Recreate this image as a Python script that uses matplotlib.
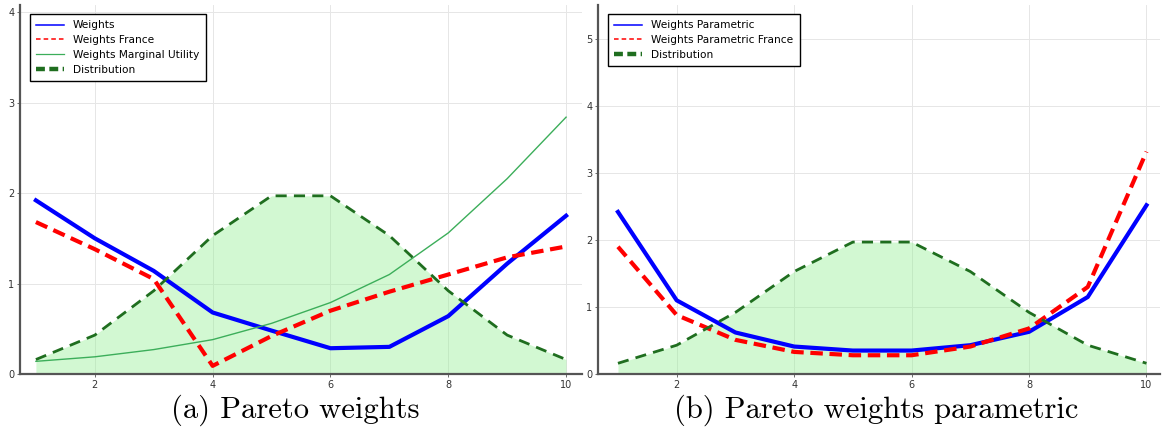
import matplotlib
matplotlib.use("Agg")
import matplotlib.pyplot as plt
from matplotlib.lines import Line2D
import numpy as np

# data
x = np.arange(1, 11)
distribution = [0.16, 0.43, 0.92, 1.53, 1.97, 1.97, 1.53, 0.92, 0.43, 0.16]

weights = [1.92, 1.50, 1.14, 0.68, 0.48, 0.285, 0.30, 0.64, 1.22, 1.75]
weights_france = [1.68, 1.38, 1.05, 0.09, 0.42, 0.70, 0.91, 1.10, 1.29, 1.41]
weights_mu = [0.14, 0.19, 0.27, 0.38, 0.56, 0.79, 1.10, 1.56, 2.16, 2.84]

weights_par = [2.42, 1.10, 0.62, 0.41, 0.35, 0.35, 0.43, 0.63, 1.15, 2.52]
weights_par_france = [1.90, 0.88, 0.51, 0.33, 0.28, 0.28, 0.41, 0.68, 1.30, 3.32]

W, H = 1162, 434
fig = plt.figure(figsize=(W / 100, H / 100), dpi=100)

ax1 = fig.add_axes([20 / W, 1 - 374 / H, 562 / W, 369 / H])
ax2 = fig.add_axes([598 / W, 1 - 374 / H, 562 / W, 369 / H])

RED_DASH = (0, (3, 1.6))
DIST_DASH = (0, (4, 2.6))


def style(ax):
    for s in ["top", "right"]:
        ax.spines[s].set_visible(False)
    for s in ["left", "bottom"]:
        ax.spines[s].set_color("#555555")
        ax.spines[s].set_linewidth(1.6)
    ax.grid(True, color="#e6e6e6", linewidth=0.7)
    ax.set_axisbelow(True)
    ax.tick_params(labelsize=7, labelcolor="#333333", color="#555555",
                   length=2, width=0.6, pad=2)
    ax.set_xticks([2, 4, 6, 8, 10])


def draw_dist(ax):
    ax.fill_between(x, 0, distribution, color="lightgreen", alpha=0.4, linewidth=0)
    ax.plot(x, distribution, color="#1f6e1f", linestyle=DIST_DASH, linewidth=2.0)


# left: Pareto weights
ax1.plot(x, weights, color="blue", linewidth=3)
ax1.plot(x, weights_france, color="red", linestyle=RED_DASH, linewidth=3)
ax1.plot(x, weights_mu, color="#3cae5a", linewidth=1)
draw_dist(ax1)
ax1.set_xlim(0.73, 10.27)
ax1.set_ylim(0, 4.08)
ax1.set_yticks([0, 1, 2, 3, 4])
style(ax1)

# right: Pareto weights parametric
ax2.plot(x, weights_par, color="blue", linewidth=3)
ax2.plot(x, weights_par_france, color="red", linestyle=RED_DASH, linewidth=3)
draw_dist(ax2)
ax2.set_xlim(0.66, 10.23)
ax2.set_ylim(0, 5.51)
ax2.set_yticks([0, 1, 2, 3, 4, 5])
style(ax2)

# legend handles are thinner than the plotted lines, like the original
h_blue = Line2D([], [], color="blue", linewidth=1.1)
h_red = Line2D([], [], color="red", linestyle=(0, (3, 2)), linewidth=1.1)
h_mu = Line2D([], [], color="#3cae5a", linewidth=0.9)
h_dist = Line2D([], [], color="#1f6e1f", linestyle=(0, (2, 1)), linewidth=3.2)

legends = [
    (ax1, [h_blue, h_red, h_mu, h_dist],
     ["Weights", "Weights France", "Weights Marginal Utility", "Distribution"]),
    (ax2, [h_blue, h_red, h_dist],
     ["Weights Parametric", "Weights Parametric France", "Distribution"]),
]
for ax, hs, labs in legends:
    leg = ax.legend(hs, labs, loc="upper left", fontsize=7.6, fancybox=False,
                    framealpha=1, handlelength=2.6, borderpad=0.6,
                    labelspacing=0.45, handletextpad=0.9,
                    bbox_to_anchor=(0.008, 0.99))
    leg.get_frame().set_edgecolor("black")
    leg.get_frame().set_linewidth(1.0)

fig.text(295 / W, 1 - 410 / H, "(a) Pareto weights", family="cmr10",
         fontsize=22, ha="center", va="center")
fig.text(876 / W, 1 - 410 / H, "(b) Pareto weights parametric", family="cmr10",
         fontsize=22, ha="center", va="center")

fig.savefig("out.png", dpi=100)
